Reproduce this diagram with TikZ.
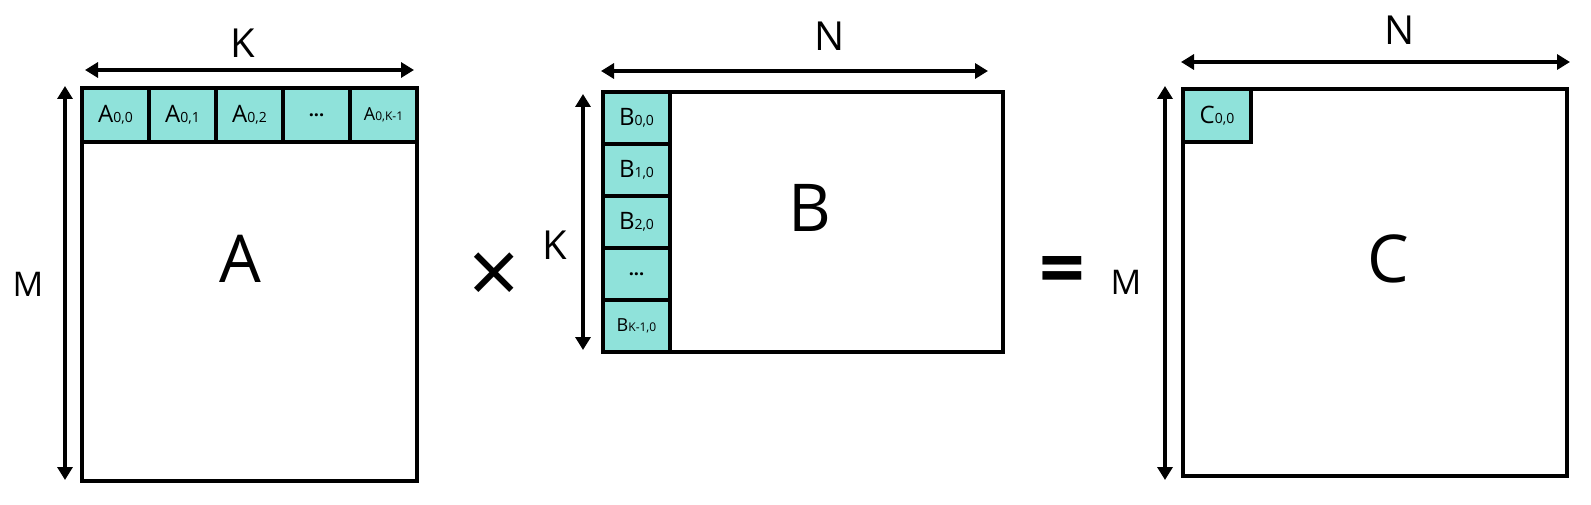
\documentclass[tikz,border=0pt]{standalone}
\usepackage{fontspec}
\setmainfont{Open Sans}
\usetikzlibrary{arrows.meta}
\definecolor{cellfill}{RGB}{143,226,218}
\tikzset{
  mat/.style={draw, line width=3.6pt, rectangle, inner sep=0pt},
  cellbox/.style={draw, line width=3.2pt, fill=cellfill, rectangle, inner sep=0pt},
  dimarrow/.style={{Triangle[length=13pt,width=15pt]}-{Triangle[length=13pt,width=15pt]}, line width=3.4pt},
  dimlabel/.style={font=\fontsize{40}{42}\selectfont},
  biglabel/.style={font=\fontsize{66}{68}\selectfont},
  celltext/.style={font=\fontsize{24}{24}\selectfont},
}
\newcommand{\sbs}[1]{{\fontsize{14}{14}\selectfont #1}}
\newcommand{\mydots}{{\fontsize{18}{18}\selectfont\bfseries ...}}
\begin{document}
\begin{tikzpicture}[x=1pt,y=-1pt]
\useasboundingbox (0,0) rectangle (1591,505);
% Matrix A
\node[mat, minimum width=335pt, minimum height=393pt] (A) at (249.5,284.5) {};
\node[biglabel] (Alab) at (240,259) {A};
\foreach \i/\t in {0/{A\sbs{0,0}},1/{A\sbs{0,1}},2/{A\sbs{0,2}},3/{\mydots},4/{\fontsize{18}{18}\selectfont A\fontsize{12}{12}\selectfont 0,K-1}}{
  \node[cellbox, celltext, minimum width=67pt, minimum height=54pt] (a\i) at ({115.5+67*\i},115) {\t};
}
\coordinate (akl) at (85,70); \coordinate (akr) at (414,70);
\draw[dimarrow] (akl) -- (akr);
\node[dimlabel] (AK) at (243,43) {K};
\coordinate (amt) at (65,86); \coordinate (amb) at (65,480);
\draw[dimarrow] (amt) -- (amb);
\node[dimlabel, font=\fontsize{34}{36}\selectfont] (AM) at (28,284) {M};
% times
\node[font=\fontsize{90}{90}\selectfont] (times) at (494,279) {×};
% Matrix B
\node[mat, minimum width=400pt, minimum height=260pt] (B) at (803,222) {};
\node[biglabel] (Blab) at (810,208) {B};
\foreach \i/\t in {0/{B\sbs{0,0}},1/{B\sbs{1,0}},2/{B\sbs{2,0}},3/{\mydots},4/{\fontsize{18}{18}\selectfont B\fontsize{12}{12}\selectfont K-1,0}}{
  \node[cellbox, celltext, minimum width=67pt, minimum height=52pt] (b\i) at (636.5,{118+52*\i}) {\t};
}
\coordinate (bnl) at (601,71); \coordinate (bnr) at (988,71);
\draw[dimarrow] (bnl) -- (bnr);
\node[dimlabel] (BN) at (830,36) {N};
\coordinate (bkt) at (583,94); \coordinate (bkb) at (583,350);
\draw[dimarrow] (bkt) -- (bkb);
\node[dimlabel] (BK) at (555,245) {K};
% equals
\node[font=\fontsize{80}{80}\selectfont\bfseries] (eq) at (1062,276) {=};
% Matrix C
\node[mat, minimum width=384pt, minimum height=387pt] (C) at (1375,282.5) {};
\node[biglabel] (Clab) at (1388,259) {C};
\node[cellbox, celltext, minimum width=68pt, minimum height=53pt] (c0) at (1217,115.5) {C\sbs{0,0}};
\coordinate (cnl) at (1181,62); \coordinate (cnr) at (1570,62);
\draw[dimarrow] (cnl) -- (cnr);
\node[dimlabel] (CN) at (1400,30) {N};
\coordinate (cmt) at (1165,86); \coordinate (cmb) at (1165,480);
\draw[dimarrow] (cmt) -- (cmb);
\node[dimlabel, font=\fontsize{34}{36}\selectfont] (CM) at (1126,282) {M};
\end{tikzpicture}
\end{document}
